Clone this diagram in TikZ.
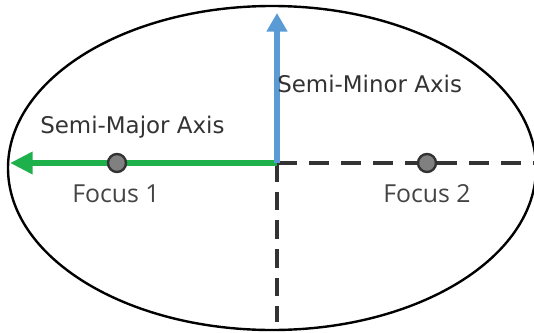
\documentclass[tikz,border=0pt]{standalone}
\usepackage{fontspec}
\setmainfont{Open Sans}
\newfontfamily\labfont{DejaVu Sans}
\usetikzlibrary{arrows.meta}
\definecolor{axgreen}{HTML}{1EB14B}
\definecolor{axblue}{HTML}{5B9BD5}
\definecolor{dashgrey}{HTML}{333333}
\definecolor{txtgrey}{HTML}{444444}
\tikzset{
  axislabel/.style={anchor=base west, inner sep=0pt, text=dashgrey, font=\labfont\fontsize{17.2}{20}\selectfont},
  focuslabel/.style={anchor=base west, inner sep=0pt, text=txtgrey, font=\fontsize{18.6}{22}\selectfont},
  focusdot/.style={circle, draw=dashgrey, fill=gray, line width=1.8pt, minimum size=13.5pt, inner sep=0pt},
  dashline/.style={draw=dashgrey, line width=2.6pt, dash pattern=on 15pt off 9pt},
  vdashline/.style={draw=dashgrey, line width=2.6pt, dash pattern=on 14pt off 7.5pt},
  greenarrow/.style={draw=axgreen, line width=4.6pt, -{Triangle[length=17pt,width=16pt]}},
  bluearrow/.style={draw=axblue, line width=4.6pt, -{Triangle[length=14pt,width=15pt]}},
}
\begin{document}
\begin{tikzpicture}[x=0.75pt,y=-0.75pt]
\useasboundingbox (0,0) rectangle (534,332);
\draw[black, line width=1.8pt] (272,168) ellipse [x radius=264, y radius=162];
\coordinate (O) at (277,163);
\coordinate (L) at (10,163);
\coordinate (T) at (277,13);
\coordinate (R) at (536,163);
\coordinate (B) at (277,322);
\draw[dashline] (O) -- (R);
\draw[vdashline] (O) -- (B);
\draw[greenarrow] (O) -- (L);
\draw[bluearrow] (O) -- (T);
\node[focusdot] (F1) at (117,163) {};
\node[focusdot] (F2) at (427,163) {};
\node[axislabel] (maj) at (40,133) {Semi-Major Axis};
\node[axislabel] (min) at (277,92) {Semi-Minor Axis};
\node[focuslabel] (f1) at (72,202) {Focus 1};
\node[focuslabel] (f2) at (383,202) {Focus 2};
\end{tikzpicture}
\end{document}
